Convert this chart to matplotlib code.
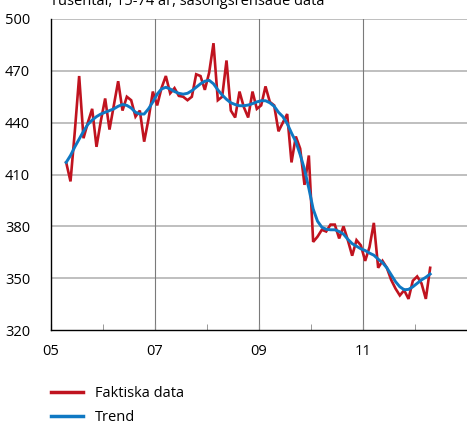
import matplotlib
matplotlib.use("Agg")
import matplotlib.pyplot as plt
import numpy as np

plt.rcParams['font.family'] = ['Open Sans', 'DejaVu Sans']

start_year = 2005
start_month = 4  # April 2005

faktiska = [
    417, 406, 435, 467, 431, 440, 448, 426, 441,
    454, 436, 450, 464, 447, 455, 453, 443.5, 447, 429, 442, 458,
    450, 460, 467, 457, 460, 455.5, 455, 453, 455, 468, 467, 459,
    469, 486, 453, 455, 476, 447, 443, 458, 449, 443, 458, 448,
    450, 461, 452, 450, 435, 440, 445, 417, 432, 425, 404, 421,
    371, 374, 378, 377, 381, 381, 373, 380, 372, 363, 372, 369,
    360, 368, 382, 356, 360, 356, 349, 344, 340, 343, 338, 348.5,
    351, 347, 338, 356,
]

trend = [
    417, 421, 426, 430.5, 435, 439, 441.5, 443.5, 445,
    446, 447, 448, 449.5, 450.5, 450, 448.5, 446, 445, 445, 448, 452,
    456.5, 459.5, 460.5, 459.5, 458, 457, 456.5, 457, 458.5, 460.5, 462.5, 464,
    464.5, 462.5, 459, 456, 453.5, 451.5, 450.5, 449.8, 449.8, 450.2, 451, 452,
    452.7, 452.7, 451.5, 449.5, 446, 443.5, 439.5, 434, 429, 421.5, 413, 402,
    390, 383, 379.5, 378.3, 378, 378, 377, 375.5, 372.5, 370, 368.5, 367,
    366, 364.5, 363.3, 361, 359, 356, 352, 348, 345, 343.3, 343.5, 345,
    347, 349, 350.5, 352.4,
]

x_tick_years = [2005, 2007, 2009, 2011]
x_tick_labels = ['05', '07', '09', '11']
y_ticks = [320, 350, 380, 410, 440, 470, 500]

n = len(faktiska)
dates = np.array([start_year + (start_month - 1 + i + 0.5) / 12 for i in range(n)])

fig = plt.figure(figsize=(4.67, 4.26), dpi=100)
ax = fig.add_axes([51/467, 1 - 330/426, 1 - 51/467, (330 - 19)/426])

red = '#c0131f'
blue = '#0f78c3'

for yv in y_ticks[1:]:
    ax.axhline(yv, color='#b4b4b4', lw=1.2, zorder=1)
for xv in [2007, 2009, 2011]:
    ax.axvline(xv, color='#7a7a7a', lw=0.8, zorder=1)

ax.plot(dates, faktiska, color=red, lw=1.9, label='Faktiska data', zorder=3,
        solid_joinstyle='miter')
ax.plot(dates, trend, color=blue, lw=2.1, label='Trend', zorder=4)

ax.set_xlim(2005, 2013)
ax.set_ylim(320, 500)
ax.set_yticks(y_ticks)
ax.set_xticks(x_tick_years)
ax.set_xticklabels(x_tick_labels)
ax.set_xticks([2006, 2008, 2010, 2012], minor=True)
ax.tick_params(axis='x', which='both', direction='in', length=4, color='#888888',
               labelsize=10.5, pad=10)
ax.tick_params(axis='y', length=0, labelsize=10.5, pad=15)

for side in ['top', 'right']:
    ax.spines[side].set_visible(False)
ax.spines['left'].set_color('black')
ax.spines['bottom'].set_color('black')
ax.spines['left'].set_linewidth(1.0)
ax.spines['bottom'].set_linewidth(1.0)

fig.text(50/467, 1 - 5/426, 'Tusental, 15-74 år, säsongsrensade data',
         fontsize=10.5, va='baseline', ha='left')

leg = fig.legend(loc='upper left', bbox_to_anchor=(51/467, 1 - 386/426),
                 frameon=False, fontsize=10.5, handlelength=2.2,
                 handletextpad=0.8, labelspacing=0.65, borderpad=0,
                 borderaxespad=0)
for line in leg.get_lines():
    line.set_linewidth(2.5)

fig.savefig('out.png', dpi=100)
